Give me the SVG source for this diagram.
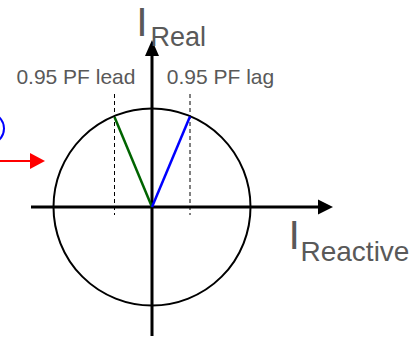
<svg xmlns="http://www.w3.org/2000/svg" width="416" height="337" viewBox="0 0 416 337">
<style>
.lbl{font-family:"Liberation Sans",Arial,sans-serif;fill:#595959}
.axis{stroke:#000;stroke-width:3;fill:none}
.dash{stroke:#000;stroke-width:1;stroke-dasharray:4,3;fill:none}
</style>
<rect width="416" height="337" fill="#fff"/>
<g id="circle"><circle cx="152" cy="207" r="98.5" fill="none" stroke="#000" stroke-width="2"/></g>
<g id="partial-blue"><circle cx="-11.75" cy="128.5" r="15.75" fill="none" stroke="#0000ff" stroke-width="2"/></g>
<g id="connectors">
<line class="axis" x1="152" y1="336" x2="152" y2="55"/>
<polygon points="152,40 145,56 159,56" fill="#000"/>
<line class="axis" x1="31" y1="207" x2="319" y2="207"/>
<polygon points="333,207 318,199.5 318,214.5" fill="#000"/>
<line class="dash" x1="114.5" y1="94" x2="114.5" y2="215"/>
<line class="dash" x1="190" y1="94" x2="190" y2="215"/>
<line x1="114.5" y1="117" x2="152" y2="207" stroke="#006400" stroke-width="2.5"/>
<line x1="190" y1="116.5" x2="152" y2="207" stroke="#0000ff" stroke-width="2.5"/>
<line x1="0" y1="161" x2="31" y2="161" stroke="#ff0000" stroke-width="2"/>
<polygon points="45,161 30,153 30,169" fill="#ff0000"/>
</g>
<g id="labels">
<text class="lbl" x="16.4" y="84.3" font-size="21">0.95 PF lead</text>
<text class="lbl" x="166.8" y="84.3" font-size="21">0.95 PF lag</text>
<text class="lbl" x="136.2" y="36" font-size="41">I</text>
<text class="lbl" x="150.6" y="46" font-size="27">Real</text>
<text class="lbl" x="288.4" y="248.5" font-size="41">I</text>
<text class="lbl" x="300.5" y="261" font-size="28">Reactive</text>
</g>
</svg>
